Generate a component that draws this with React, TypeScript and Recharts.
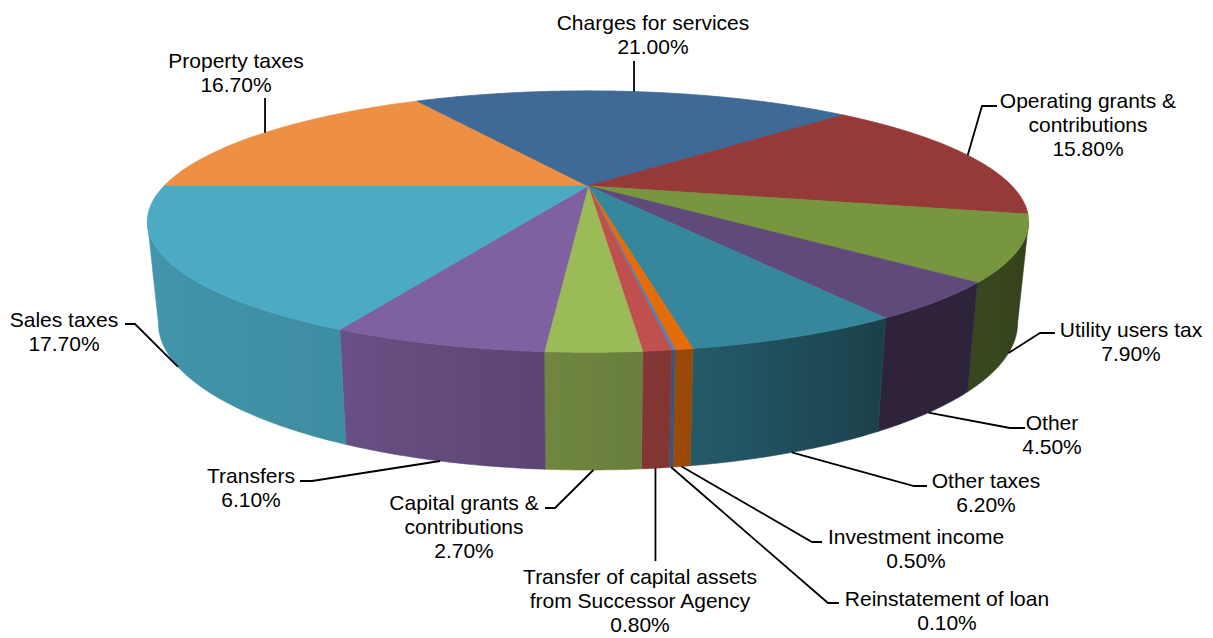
import React from 'react';
import { PieChart, Pie } from 'recharts';

// ---------- data ----------
const categories = [
  'Property taxes',
  'Charges for services',
  'Operating grants & contributions',
  'Utility users tax',
  'Other',
  'Other taxes',
  'Investment income',
  'Reinstatement of loan',
  'Transfer of capital assets from Successor Agency',
  'Capital grants & contributions',
  'Transfers',
  'Sales taxes',
];
const values = [16.7, 21.0, 15.8, 7.9, 4.5, 6.2, 0.5, 0.1, 0.8, 2.7, 6.1, 17.7];
const labelLines = [
  ['Property taxes'],
  ['Charges for services'],
  ['Operating grants &', 'contributions'],
  ['Utility users tax'],
  ['Other'],
  ['Other taxes'],
  ['Investment income'],
  ['Reinstatement of loan'],
  ['Transfer of capital assets', 'from Successor Agency'],
  ['Capital grants &', 'contributions'],
  ['Transfers'],
  ['Sales taxes'],
];

// ---------- styles ----------
const colors = [
  '#EE9043', '#3F6996', '#953A38', '#78963F', '#604A7B', '#37879C',
  '#E46C0A', '#4F81BD', '#C0504D', '#9BBB59', '#7F60A0', '#4BAAC4',
];

type Layout = { tx: number; ty: number; vy?: number; pts?: number[][] };
const labelLayout: Layout[] = [
  { tx: 236, ty: 68, vy: 98 },
  { tx: 653, ty: 30, vy: 61 },
  { tx: 1088, ty: 108, pts: [[982, 106], [997, 106]] },
  { tx: 1131, ty: 337, pts: [[1040, 333], [1055, 333]] },
  { tx: 1052, ty: 430, pts: [[1010, 428], [1025, 428]] },
  { tx: 986, ty: 488, pts: [[914, 486], [927, 486]] },
  { tx: 916, ty: 544, pts: [[812, 542], [822, 542]] },
  { tx: 947, ty: 606, pts: [[828, 603], [839, 603]] },
  { tx: 640, ty: 584, vy: 561 },
  { tx: 464, ty: 510, pts: [[555, 508], [545, 508]] },
  { tx: 251, ty: 483, pts: [[312, 481], [300, 481]] },
  { tx: 64, ty: 327, pts: [[135, 324], [125, 324]] },
];
const LINE_H = 24;

const data = categories.map((name, i) => ({ name, value: values[i] }));

// ---------- 3D projection helpers ----------
const P = 0.272; // perspective strength
const VR = 0.2854; // vertical / horizontal radius ratio
const BKX = 0.975;
const BKY = 1.125;
const BDY = 97;
const RAD = Math.PI / 180;
const T1 = 180 + Math.asin(P) / RAD;
const T2 = 360 - Math.asin(P) / RAD;

const norm = (a: number) => ((a % 360) + 360) % 360;

function topPt(cx: number, cy: number, R: number, deg: number): number[] {
  const c = Math.cos(deg * RAD);
  const s = Math.sin(deg * RAD);
  const w = 1 + P * s;
  return [cx + (R * c) / w, cy - (R * VR * s) / w];
}
function botPt(cx: number, cy: number, R: number, deg: number): number[] {
  const [x, y] = topPt(cx, cy, R, deg);
  return [cx + (x - cx) * BKX, cy + (y - cy) * BKY + BDY];
}

const shadeTable = [
  [195, 0.89], [244, 0.83], [266, 0.72], [272, 0.69], [280, 0.67],
  [302, 0.48], [325, 0.47], [345, 0.39],
];
function sideFactor(a: number) {
  if (a <= shadeTable[0][0]) return shadeTable[0][1];
  for (let i = 1; i < shadeTable.length; i++) {
    const [a0, f0] = shadeTable[i - 1];
    const [a1, f1] = shadeTable[i];
    if (a <= a1) return f0 + ((f1 - f0) * (a - a0)) / (a1 - a0);
  }
  return shadeTable[shadeTable.length - 1][1];
}
function shade(hex: string, f: number) {
  const n = parseInt(hex.slice(1), 16);
  const r = Math.round(((n >> 16) & 255) * f);
  const g = Math.round(((n >> 8) & 255) * f);
  const b = Math.round((n & 255) * f);
  return `rgb(${r},${g},${b})`;
}
function sideRanges(lo: number, hi: number) {
  const out: number[][] = [];
  for (const off of [-360, 0, 360]) {
    const a = Math.max(lo, T1 + off);
    const b = Math.min(hi, T2 + off);
    if (b > a) out.push([a, b]);
  }
  return out;
}
const ptsStr = (p: number[][]) => p.map((q) => `${q[0].toFixed(2)},${q[1].toFixed(2)}`).join(' ');

const renderBody = (props: any) => {
  const { cx, cy, outerRadius: R, startAngle, endAngle, index } = props;
  const color = colors[index];
  const lo = Math.min(startAngle, endAngle);
  const hi = Math.max(startAngle, endAngle);
  const sides: any[] = [];
  sideRanges(lo, hi).forEach(([a, b], j) => {
    const n = Math.max(2, Math.ceil((b - a) / 0.5));
    const topArc: number[][] = [];
    const botArc: number[][] = [];
    for (let k = 0; k <= n; k++) {
      const ang = a + ((b - a) * k) / n;
      topArc.push(topPt(cx, cy, R, ang));
      botArc.push(botPt(cx, cy, R, ang));
    }
    const x1 = topArc[0][0];
    const x2 = topArc[n][0];
    const gid = `side-grad-${index}-${j}`;
    const stopsN = Math.max(2, Math.ceil((b - a) / 2));
    const stops: any[] = [];
    for (let k = 0; k <= stopsN; k++) {
      const ang = a + ((b - a) * k) / stopsN;
      const x = topPt(cx, cy, R, ang)[0];
      const off = x2 === x1 ? 0 : (x - x1) / (x2 - x1);
      stops.push(<stop key={k} offset={Math.min(1, Math.max(0, off))} stopColor={shade(color, sideFactor(norm(ang)))} />);
    }
    const poly = [...topArc, ...botArc.slice().reverse()];
    sides.push(
      <g key={`side-${j}`}>
        <defs>
          <linearGradient id={gid} gradientUnits="userSpaceOnUse" x1={x1} y1={0} x2={x2} y2={0}>
            {stops}
          </linearGradient>
        </defs>
        <polygon points={ptsStr(poly)} fill={`url(#${gid})`} stroke={`url(#${gid})`} strokeWidth={0.6} />
      </g>
    );
  });
  const m = Math.max(2, Math.ceil((hi - lo) / 0.5));
  const top: number[][] = [[cx, cy]];
  for (let k = 0; k <= m; k++) top.push(topPt(cx, cy, R, startAngle + ((endAngle - startAngle) * k) / m));
  return (
    <g key={`body-${index}`}>
      {sides}
      <polygon points={ptsStr(top)} fill={color} stroke={color} strokeWidth={0.8} strokeLinejoin="round" />
    </g>
  );
};

const renderLabel = (props: any) => {
  const { cx, cy, outerRadius: R, midAngle, index, percent } = props;
  const m = norm(midAngle);
  const front = m > T1 && m < T2;
  const [ax, ay] = front ? botPt(cx, cy, R, midAngle) : topPt(cx, cy, R, midAngle);
  const L = labelLayout[index];
  const path = L.vy !== undefined ? [[ax, ay], [ax, L.vy]] : [[ax, ay], ...(L.pts || [])];
  const lines = [...labelLines[index], `${(percent * 100).toFixed(2)}%`];
  return (
    <g key={`lab-${index}`}>
      <polyline points={ptsStr(path)} fill="none" stroke="#000" strokeWidth={1.8} />
      <text
        x={L.tx}
        y={L.ty}
        textAnchor="middle"
        fontFamily="'Liberation Sans', Arial, sans-serif"
        fontSize={21}
        fill="#000"
      >
        {lines.map((t, i) => (
          <tspan key={i} x={L.tx} dy={i === 0 ? 0 : LINE_H}>
            {t}
          </tspan>
        ))}
      </text>
    </g>
  );
};

export default function App() {
  return (
    <div style={{ position: 'absolute', left: 0, top: 0, width: 1213, height: 638, background: '#fff' }}>
      <PieChart width={1213} height={638} margin={{ top: 0, right: 0, bottom: 0, left: 0 }}>
        <Pie
          data={data}
          dataKey="value"
          nameKey="name"
          cx={588}
          cy={186}
          outerRadius={424}
          startAngle={180}
          endAngle={-180}
          fill="none"
          stroke="none"
          isAnimationActive={false}
          label={renderBody}
          labelLine={false}
        />
        <Pie
          data={data}
          dataKey="value"
          nameKey="name"
          cx={588}
          cy={186}
          outerRadius={424}
          startAngle={180}
          endAngle={-180}
          fill="none"
          stroke="none"
          isAnimationActive={false}
          label={renderLabel}
          labelLine={false}
        />
      </PieChart>
    </div>
  );
}
